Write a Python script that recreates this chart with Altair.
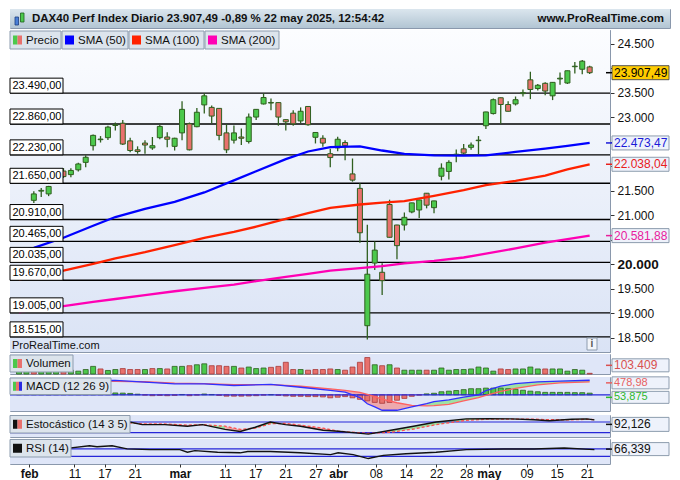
import json
import altair as alt
import numpy as np
import pandas as pd

# ---------------- data ----------------
dates = [
    "2025-01-30", "2025-01-31",
    "2025-02-03", "2025-02-04", "2025-02-05", "2025-02-06", "2025-02-07",
    "2025-02-10", "2025-02-11", "2025-02-12", "2025-02-13", "2025-02-14",
    "2025-02-17", "2025-02-18", "2025-02-19", "2025-02-20", "2025-02-21",
    "2025-02-24", "2025-02-25", "2025-02-26", "2025-02-27", "2025-02-28",
    "2025-03-03", "2025-03-04", "2025-03-05", "2025-03-06", "2025-03-07",
    "2025-03-10", "2025-03-11", "2025-03-12", "2025-03-13", "2025-03-14",
    "2025-03-17", "2025-03-18", "2025-03-19", "2025-03-20", "2025-03-21",
    "2025-03-24", "2025-03-25", "2025-03-26", "2025-03-27", "2025-03-28",
    "2025-03-31", "2025-04-01", "2025-04-02", "2025-04-03", "2025-04-04",
    "2025-04-07", "2025-04-08", "2025-04-09", "2025-04-10", "2025-04-11",
    "2025-04-14", "2025-04-15", "2025-04-16", "2025-04-17",
    "2025-04-22", "2025-04-23", "2025-04-24", "2025-04-25",
    "2025-04-28", "2025-04-29", "2025-04-30",
    "2025-05-02",
    "2025-05-05", "2025-05-06", "2025-05-07", "2025-05-08", "2025-05-09",
    "2025-05-12", "2025-05-13", "2025-05-14", "2025-05-15", "2025-05-16",
    "2025-05-19", "2025-05-20", "2025-05-21", "2025-05-22",
]
open_ = [21680, 21750, 21302, 21490, 21433, 21680, 21900, 21827, 21925, 22077,
         22417, 22540, 22581, 22830, 22876, 22516, 22333, 22471, 22372, 22581,
         22595, 22404, 22679, 22864, 22805, 23250, 23199, 23179, 22679, 22530,
         22595, 22502, 23002, 23270, 23300, 23297, 22949, 23081, 22923, 23218,
         22589, 22569, 22254, 22372, 22482, 21841, 21546, 18743, 20022, 19833,
         21217, 20798, 20798, 21065, 21105, 21447, 21152, 21794, 21892, 22230,
         22353, 22384, 22520, 22825, 23073, 23396, 23258, 23270, 23480, 23762,
         23584, 23691, 23435, 23780, 23697, 24030, 23978, 24025]
high = [21750, 21800, 21487, 21552, 21597, 21920, 21960, 21959, 22069, 22221,
        22648, 22614, 22825, 22890, 22943, 22581, 22404, 22530, 22595, 22845,
        22693, 22580, 23323, 22890, 23185, 23486, 23238, 23185, 22856, 22831,
        22766, 23073, 23165, 23486, 23382, 23300, 22955, 23140, 23199, 23225,
        22690, 22628, 22353, 22600, 22530, 22156, 21650, 20804, 20463, 20017,
        21315, 20805, 21054, 21255, 21315, 21452, 21295, 22057, 22122, 22339,
        22451, 22482, 22614, 23110, 23382, 23400, 23323, 23421, 23565, 23927,
        23677, 23710, 23715, 23913, 23950, 24124, 24169, 24051]
low = [21660, 21690, 21250, 21368, 21388, 21660, 21760, 21774, 21892, 21979,
       22319, 22482, 22535, 22726, 22431, 22286, 22254, 22254, 22333, 22549,
       22384, 22319, 22530, 22320, 22795, 23073, 22876, 22530, 22266, 22463,
       22431, 22463, 22943, 23258, 23140, 22825, 22726, 22825, 22876, 22825,
       22463, 22398, 21979, 22305, 22122, 21683, 20436, 18462, 19879, 19367,
       20540, 20101, 20686, 21040, 20942, 21138, 21040, 21709, 21729, 22077,
       22221, 22333, 22234, 22758, 23053, 22864, 23115, 23238, 23421, 23368,
       23545, 23447, 23348, 23663, 23677, 23893, 23874, 23880]
close = [21727, 21732, 21433, 21505, 21585, 21902, 21787, 21912, 22044, 22181,
         22628, 22552, 22797, 22845, 22451, 22319, 22299, 22431, 22417, 22811,
         22549, 22569, 23159, 22333, 23100, 23435, 23022, 22628, 22333, 22679,
         22569, 23002, 23159, 23401, 23288, 23002, 22904, 22864, 23120, 22845,
         22687, 22471, 22175, 22549, 22417, 21715, 20640, 19794, 20286, 19662,
         20548, 20377, 20955, 21250, 21309, 21203, 21290, 21959, 22077, 22243,
         22266, 22431, 22530, 23106, 23356, 23258, 23120, 23356, 23500, 23565,
         23651, 23533, 23710, 23795, 23947, 24040, 24143, 23907.49]
volume = [725000, 797000, 1015000, 797000, 725000, 725000, 652000, 580000,
          435000, 681000, 1160000, 768000, 536000, 681000, 826000, 681000, 681000, 681000,
          826000, 826000, 768000, 1160000, 1160000, 1261000, 1406000, 1551000, 1261000, 1261000,
          1160000, 1160000, 913000, 1058000, 826000, 913000, 1015000, 1160000, 1783000, 681000,
          681000, 580000, 681000, 681000, 768000, 681000,
          580000, 1058000, 1783000, 2508000, 1406000, 1261000, 1406000, 913000, 580000, 580000,
          580000, 580000, 580000, 913000, 580000, 681000, 681000, 768000, 1058000, 913000,
          435000, 768000, 681000, 768000, 768000, 1058000, 768000, 768000, 768000, 768000,
          435000, 681000, 580000, 103409]
macd_hist = [40, 35, 20, 10, 5, 10, 15, 20, 30, 40,
             55, 60, 60, 60, 55, 45, 20, -10, -30, -20,
             -30, -20, 10, -30, -10, 25, 10, -20, -45, -45,
             -45, -40, -30, -10, 5, -20, -40, -50, -50, -60,
             -60, -70, -100, -80, -60, -100, -150, -200, -250, -280,
             -250, -180, -120, -50, -10, 30, 50, 100, 120, 140,
             170, 200, 200, 220, 220, 220, 200, 180, 150, 120,
             100, 80, 80, 80, 80, 70, 70, 53.875]

axis_dates = ["2025-02-03", "2025-02-11", "2025-02-17", "2025-02-21", "2025-03-03",
              "2025-03-11", "2025-03-17", "2025-03-21", "2025-03-27", "2025-04-01",
              "2025-04-08", "2025-04-14", "2025-04-22", "2025-04-28", "2025-05-02",
              "2025-05-09", "2025-05-15", "2025-05-21"]
axis_labels = ["feb", "11", "17", "21", "mar", "11", "17", "21", "27", "abr",
               "08", "14", "22", "28", "may", "09", "15", "21"]
month_labels = ["feb", "mar", "abr", "may"]

levels = [23490, 22860, 22230, 21650, 20910, 20465, 20035, 19670, 19005, 18515]
level_labels = ["23.490,00", "22.860,00", "22.230,00", "21.650,00", "20.910,00",
                "20.465,00", "20.035,00", "19.670,00", "19.005,00", "18.515,00"]
price_ticks = [18500, 19000, 19500, 20000, 20500, 21000, 21500, 22000,
               22500, 23000, 23500, 24000, 24500]
# tick labels that sit under the value tags in the reference
hidden_ticks = [20500, 22000, 22500, 24000]

sma_dates = ["2025-01-30", "2025-02-03", "2025-02-07", "2025-02-13", "2025-02-18",
             "2025-02-24", "2025-02-28", "2025-03-06", "2025-03-12", "2025-03-17",
             "2025-03-21", "2025-03-26", "2025-03-31", "2025-04-04", "2025-04-09",
             "2025-04-14", "2025-04-22", "2025-04-28", "2025-05-02", "2025-05-08",
             "2025-05-14", "2025-05-19", "2025-05-22"]
sma50 = [20272, 20331, 20538, 20784, 20961, 21128, 21270, 21463, 21709, 21896, 22142,
         22299, 22388, 22404, 22319, 22250, 22221, 22215, 22221, 22290, 22358, 22412, 22473.47]
sma100 = [19682, 19751, 19869, 20007, 20115, 20243, 20390, 20538, 20656, 20764, 20922,
          21040, 21148, 21217, 21256, 21286, 21394, 21512, 21611, 21699, 21807, 21935, 22038.04]
sma200 = [19013, 19072, 19141, 19229, 19288, 19367, 19446, 19515, 19583, 19652, 19741,
          19800, 19869, 19918, 19957, 20016, 20066, 20135, 20213, 20321, 20440, 20508, 20581.88]

tag_values = [23907.49, 22473.47, 22038.04, 20581.88]
tag_labels = ["23.907,49", "22.473,47", "22.038,04", "20.581,88"]

macd_dates = ["2025-01-30", "2025-02-05", "2025-02-11", "2025-02-18", "2025-02-24",
              "2025-02-28", "2025-03-06", "2025-03-12", "2025-03-19", "2025-03-25",
              "2025-03-31", "2025-04-02", "2025-04-04", "2025-04-07", "2025-04-08",
              "2025-04-09", "2025-04-11", "2025-04-15", "2025-04-17", "2025-04-22",
              "2025-04-24", "2025-04-28", "2025-04-30", "2025-05-02", "2025-05-06",
              "2025-05-08", "2025-05-13", "2025-05-16", "2025-05-22"]
macd_line = [520, 470, 460, 476, 418, 360, 360, 306, 340, 248, 146, 88, -92, -296, -398,
             -510, -510, -398, -290, -228, -170, -75, 0, 136, 282, 367, 428, 452, 478.98]
signal_line = [480, 490, 460, 440, 430, 384, 367, 333, 333, 282, 197, 146, 78, 10, -58,
               -143, -262, -347, -364, -357, -313, -200, -90, -20, 110, 210, 330, 395, 425.1]

stoch_dates = ["2025-01-30", "2025-02-06", "2025-02-13", "2025-02-20", "2025-02-24",
               "2025-02-27", "2025-03-04", "2025-03-06", "2025-03-11", "2025-03-13",
               "2025-03-17", "2025-03-19", "2025-03-21", "2025-03-25", "2025-03-28",
               "2025-04-01", "2025-04-04", "2025-04-07", "2025-04-10", "2025-04-15",
               "2025-04-22", "2025-04-28", "2025-05-02", "2025-05-07", "2025-05-12",
               "2025-05-14", "2025-05-19", "2025-05-21", "2025-05-22"]
stoch_k = [60, 78, 90, 83, 65, 65, 56, 65, 38, 26, 50, 80, 65, 56, 33, 27, 15, 11, 33, 56,
           80, 98, 99, 98, 93, 87, 96, 98, 92.126]
stoch_d = [55, 70, 85, 75, 70, 69, 62, 65, 56, 38, 45, 70, 72, 62, 45, 28, 18, 15, 22, 40,
           65, 90, 96, 97, 96, 93, 93, 95, 94]
stoch_levels = [80, 20]

rsi_dates = ["2025-01-30", "2025-02-04", "2025-02-06", "2025-02-10", "2025-02-13",
             "2025-02-14", "2025-02-18", "2025-02-20", "2025-02-25", "2025-03-03",
             "2025-03-04", "2025-03-05", "2025-03-10", "2025-03-13", "2025-03-14",
             "2025-03-19", "2025-03-25", "2025-03-31", "2025-04-01", "2025-04-03",
             "2025-04-07", "2025-04-09", "2025-04-14", "2025-04-22", "2025-04-28",
             "2025-05-06", "2025-05-12", "2025-05-16", "2025-05-22"]
rsi = [60, 55, 65, 73, 87, 82, 87, 70, 66, 66, 52, 61, 52, 49, 56, 56, 49, 39, 49, 39,
       18, 35, 44, 52, 66, 70, 70, 75, 66.339]
rsi_levels = [70, 30]

header_left = "DAX40 Perf Index Diario 23.907,49 -0,89 % 22 may 2025, 12:54:42"
header_right = "www.ProRealTime.com"

# ---------------- layout / styles ----------------
FONT = "Liberation Sans"
W = 600
HW = 660
HH = 19
HM = 322
HV = 20
HMA = 34
HS = 22
HR = 25

DARK = "#2f5f1f"
UP = "#4cc94c"
DOWN = "#e8716d"
BOX_FILL = "#dce4ec"
BOX_STROKE = "#8d9cae"
LOW_BG = "#dfe6f8"
BLUE_LINE = "#2626d8"

pos = {d: k for k, d in enumerate(dates)}

df = pd.DataFrame(dict(i=list(range(len(dates))), open=open_, high=high, low=low,
                       close=close, vol=volume, hist=macd_hist))
df["dir"] = np.where(df["close"] >= df["open"], "up", "down")
prev_close = df["close"].shift(1).fillna(df["open"])
df["vdir"] = np.where(df["close"] >= prev_close, "up", "down")
df["hdir"] = np.where(df["hist"] >= 0, "up", "down")

one = pd.DataFrame({"k": [0]})

xs = alt.Scale(domain=[-0.54, 79.07], nice=False, zero=False)


def X():
    return alt.X("i:Q", scale=xs, axis=None, title=None)


def rect_px(x0, x1, y0, y1, **kw):
    return alt.Chart(one).mark_rect(**kw).encode(
        x=alt.value(x0), x2=alt.value(x1), y=alt.value(y0), y2=alt.value(y1))


def text_px(x, y, txt, **kw):
    kw.setdefault("baseline", "middle")
    kw.setdefault("align", "left")
    return alt.Chart(one).mark_text(text=txt, **kw).encode(x=alt.value(x), y=alt.value(y))


def label_box(x0, x1, y0, y1, text, colors, fs=11.5):
    layers = [rect_px(x0, x1, y0, y1, fill=BOX_FILL, stroke=BOX_STROKE, strokeWidth=1)]
    sw0, sw1 = x0 + 3, x0 + 12
    step = (sw1 - sw0) / len(colors)
    cy = (y0 + y1) / 2
    for k, c in enumerate(colors):
        layers.append(rect_px(sw0 + k * step, sw0 + (k + 1) * step, cy - 4.5, cy + 4.5, fill=c))
    layers.append(text_px(x0 + 16, cy + 0.5, text, fontSize=fs, color="#111111"))
    return layers


def tag(value, label, yenc, tcolor, fill="#eef2fb", stroke="#8d9cae", off=0.0, half=7, fs=12):
    tdf = pd.DataFrame({"v": [value], "t": [label]})
    base = alt.Chart(tdf)
    r = base.mark_rect(fill=fill, stroke=stroke, strokeWidth=1,
                       yOffset=off + half, y2Offset=off - half).encode(
        x=alt.value(W + 2), x2=alt.value(W + 59), y=yenc("v"), y2="v")
    tk = base.mark_rule(color=tcolor, strokeWidth=1.5, yOffset=off).encode(
        x=alt.value(W - 4), x2=alt.value(W + 2), y=yenc("v"))
    t = base.mark_text(align="left", baseline="middle", fontSize=fs, color=tcolor, dy=off).encode(
        x=alt.value(W + 4), y=yenc("v"), text="t:N")
    return [r, tk, t]


def two_fill(idx, a, b, pos_color, neg_color, scale, opacity=0.75):
    rows = []
    seg = 0
    signs = ["pos" if av >= bv else "neg" for av, bv in zip(a, b)]
    for k in range(len(idx)):
        if k > 0 and signs[k] != signs[k - 1]:
            rows.append(dict(i=idx[k], a=a[k], b=b[k], seg=seg, cls=signs[k - 1]))
            seg += 1
        rows.append(dict(i=idx[k], a=a[k], b=b[k], seg=seg, cls=signs[k]))
    fdf = pd.DataFrame(rows)
    return alt.Chart(fdf).mark_area(opacity=opacity).encode(
        x=X(),
        y=alt.Y("a:Q", scale=scale, axis=None, stack=None, title=None),
        y2="b",
        color=alt.Color("cls:N", scale=alt.Scale(domain=["pos", "neg"], range=[pos_color, neg_color]),
                        legend=None),
        detail="seg:N",
    )


# ---------------- header ----------------
grad_head = alt.LinearGradient(gradient="linear", x1=0, x2=0, y1=0, y2=1, stops=[
    alt.GradientStop(color="#dbe6ee", offset=0), alt.GradientStop(color="#b2c5d3", offset=1)])
header = alt.layer(
    rect_px(0, HW, 0, HH, fill=grad_head),
    rect_px(5, 8.5, 8, 16, fill="#4a7fd6", stroke="#1d3f80", strokeWidth=0.8),
    rect_px(10.5, 14, 4, 13, fill="#4cc94c", stroke="#1d5f1d", strokeWidth=0.8),
    text_px(22, 10, header_left, fontSize=11.5, fontWeight="bold", color="#111111"),
    text_px(HW - 6, 10, header_right, fontSize=11.5, fontWeight="bold", color="#111111", align="right"),
).properties(width=HW, height=HH)

# ---------------- main panel ----------------
ys_main = alt.Scale(domain=[18206, 24779], nice=False, zero=False)
main_axis = alt.Axis(
    orient="right", values=price_ticks,
    labelExpr=(f"indexof({json.dumps(hidden_ticks)}, datum.value) >= 0 ? '' : "
               "replace(format(datum.value, ',.0f'), ',', '.')"),
    labelFontWeight=alt.condition("datum.value == 20000", alt.value("bold"), alt.value("normal")),
    labelFontSize=alt.condition("datum.value == 20000", alt.value(13.5), alt.value(12)),
    tickSize=4, tickColor="#333333", domainColor="#8a98ac", labelColor="#111111",
    grid=False, title=None, labelPadding=3, labelOverlap=False)


def YM(f):
    return alt.Y(f"{f}:Q", scale=ys_main, axis=main_axis, title=None)


grad_main = alt.LinearGradient(gradient="linear", x1=0, x2=0, y1=0, y2=1, stops=[
    alt.GradientStop(color="#fcfdff", offset=0), alt.GradientStop(color="#dae3f5", offset=1)])

lev_df = pd.DataFrame(dict(level=levels, label=level_labels))
main_layers = [rect_px(0, W, 0, HM, fill=grad_main)]
main_layers.append(alt.Chart(lev_df).mark_rule(color="black", strokeWidth=1.4).encode(y=YM("level")))
main_layers.append(alt.Chart(df).mark_rule(color=DARK, strokeWidth=1.3).encode(
    x=X(), y=YM("low"), y2="high"))
for d, fc in (("up", UP), ("down", DOWN)):
    main_layers.append(alt.Chart(df).transform_filter(f"datum.dir == '{d}'").mark_bar(
        size=5, fill=fc, stroke=DARK, strokeWidth=1).encode(x=X(), y=YM("open"), y2="close"))
sma_i = [pos[d] for d in sma_dates]
for vals, col in ((sma50, "#0000ff"), (sma100, "#ff2200"), (sma200, "#ff00b4")):
    sdf = pd.DataFrame(dict(i=sma_i, v=vals))
    main_layers.append(alt.Chart(sdf).mark_line(color=col, strokeWidth=2.3).encode(x=X(), y=YM("v")))
main_layers.append(alt.Chart(lev_df).mark_rect(fill="white", stroke="black", strokeWidth=1,
                                               y2Offset=-15).encode(
    x=alt.value(0), x2=alt.value(53), y=YM("level"), y2="level"))
main_layers.append(alt.Chart(lev_df).mark_text(align="left", baseline="middle", dy=-7,
                                               fontSize=11, color="black").encode(
    x=alt.value(2.5), y=YM("level"), text="label:N"))
main_layers += label_box(0, 51, 1, 19, "Precio", [UP, DOWN])
main_layers += label_box(52, 118, 1, 19, "SMA (50)", ["#0000ff"])
main_layers += label_box(119, 194, 1, 19, "SMA (100)", ["#ff2200"])
main_layers += label_box(195, 269, 1, 19, "SMA (200)", ["#ff00b4"])
main_layers.append(text_px(2, HM - 6, "ProRealTime.com", fontSize=11, color="#111111"))
main_layers.append(rect_px(W - 23, W - 13, HM - 14, HM - 2, fill="#f2f5fa", stroke="#8d9cae"))
main_layers.append(text_px(W - 18, HM - 8, "i", fontSize=10, fontWeight="bold",
                           color="#555555", align="center"))
tag_styles = [("#000000", "#ffcc00", "#555555"), ("#1a1ad8", "#eef2fb", "#8d9cae"),
              ("#e8201c", "#eef2fb", "#8d9cae"), ("#e8209c", "#eef2fb", "#8d9cae")]
for v, lab, (tc, fc, sc) in zip(tag_values, tag_labels, tag_styles):
    main_layers += tag(v, lab, YM, tc, fill=fc, stroke=sc)
main = alt.layer(*main_layers).properties(width=W, height=HM)

# ---------------- volume ----------------
vs = alt.Scale(domain=[0, 3045000], nice=False, zero=False)


def YV(f):
    return alt.Y(f"{f}:Q", scale=vs, axis=None, title=None, stack=None)


vol_layers = [rect_px(0, W, 0, HV, fill=LOW_BG)]
for d, fc, sc in (("up", UP, DARK), ("down", DOWN, "#a83a3a")):
    vol_layers.append(alt.Chart(df).transform_filter(f"datum.vdir == '{d}'").mark_bar(
        size=5, fill=fc, stroke=sc, strokeWidth=0.8).encode(x=X(), y=YV("vol")))
vol_layers += label_box(0, 63, 1, 18, "Volumen", [UP, DOWN])
vol_layers += tag(volume[-1], "103.409", YV, "#d85050", off=-8, half=6.5)
vol = alt.layer(*vol_layers).properties(width=W, height=HV)

# ---------------- MACD ----------------
ms = alt.Scale(domain=[-534, 586], nice=False, zero=False)


def YMA(f):
    return alt.Y(f"{f}:Q", scale=ms, axis=None, title=None, stack=None)


macd_i = [pos[d] for d in macd_dates]
mdf = pd.DataFrame(dict(i=macd_i, m=macd_line, s=signal_line))
macd_layers = [rect_px(0, W, 0, HMA, fill=LOW_BG)]
macd_layers.append(two_fill(macd_i, macd_line, signal_line, "#8fe08f", "#f09a9a", ms, 0.8))
for d, fc, sc in (("up", UP, DARK), ("down", DOWN, "#a83a3a")):
    macd_layers.append(alt.Chart(df).transform_filter(f"datum.hdir == '{d}'").mark_bar(
        size=5, fill=fc, stroke=sc, strokeWidth=0.8).encode(x=X(), y=YMA("hist")))
macd_layers.append(alt.Chart(pd.DataFrame({"z": [0]})).mark_rule(
    color=BLUE_LINE, strokeWidth=1.2).encode(y=YMA("z")))
macd_layers.append(alt.Chart(mdf).mark_line(color="#ff6060", strokeWidth=1.3).encode(x=X(), y=YMA("s")))
macd_layers.append(alt.Chart(mdf).mark_line(color="#3030ff", strokeWidth=1.3).encode(x=X(), y=YMA("m")))
macd_layers += label_box(0, 101, 1, 17.5, "MACD (12 26 9)", [UP, DOWN, "#2a2ae0"])
macd_layers += tag(macd_line[-1], "478,98", YMA, "#e86060", off=2.6, half=6, fs=11)
macd_layers += tag(macd_hist[-1], "53,875", YMA, "#2fb82f", off=4.2, half=6, fs=11)
macd = alt.layer(*macd_layers).properties(width=W, height=HMA)

# ---------------- Stochastic ----------------
ss = alt.Scale(domain=[-5.5, 120], nice=False, zero=False)


def YS(f):
    return alt.Y(f"{f}:Q", scale=ss, axis=None, title=None, stack=None)


st_i = [pos[d] for d in stoch_dates]
sdf2 = pd.DataFrame(dict(i=st_i, k=stoch_k, d=stoch_d))
sto_layers = [rect_px(0, W, 0, HS, fill=LOW_BG)]
sto_layers.append(two_fill(st_i, stoch_k, stoch_d, "#95a3dc", "#f2b0c0", ss, 0.85))
sto_layers.append(alt.Chart(pd.DataFrame({"v": stoch_levels})).mark_rule(
    color=BLUE_LINE, strokeWidth=1.2).encode(y=YS("v")))
sto_layers.append(alt.Chart(sdf2).mark_line(color="#ff5050", strokeWidth=1.3,
                                            strokeDash=[3, 2]).encode(x=X(), y=YS("d")))
sto_layers.append(alt.Chart(sdf2).mark_line(color="#111111", strokeWidth=1.4).encode(x=X(), y=YS("k")))
sto_layers += label_box(0, 120, 0.5, 18, "Estocástico (14 3 5)", ["#111111", DOWN])
sto_layers += tag(stoch_k[-1], "92,126", YS, "#111111", off=4.5, half=7)
sto = alt.layer(*sto_layers).properties(width=W, height=HS)

# ---------------- RSI ----------------
rs = alt.Scale(domain=[-11.4, 123.6], nice=False, zero=False)


def YR(f):
    return alt.Y(f"{f}:Q", scale=rs, axis=None, title=None, stack=None)


axis_idx = [pos[d] for d in axis_dates]
month_idx = [axis_idx[k] for k, l in enumerate(axis_labels) if l in month_labels]
x_axis = alt.Axis(
    values=axis_idx,
    labelExpr=f"{json.dumps(axis_labels)}[indexof({json.dumps(axis_idx)}, datum.value)]",
    labelFontWeight=alt.condition(f"indexof({json.dumps(month_idx)}, datum.value) >= 0",
                                  alt.value("bold"), alt.value("normal")),
    labelFontSize=12, labelColor="#111111", tickSize=3, tickColor="#333333",
    domain=False, grid=False, labelPadding=1, labelOverlap=False, labelFlush=False, title=None)
rsi_i = [pos[d] for d in rsi_dates]
rdf = pd.DataFrame(dict(i=rsi_i, r=rsi))
rsi_layers = [rect_px(0, W, 0, HR, fill=LOW_BG)]
rsi_layers.append(alt.Chart(pd.DataFrame({"v": rsi_levels})).mark_rule(
    color=BLUE_LINE, strokeWidth=1.2).encode(y=YR("v")))
rsi_layers.append(alt.Chart(rdf).mark_line(color="#111111", strokeWidth=1.4).encode(
    x=alt.X("i:Q", scale=xs, axis=x_axis, title=None), y=YR("r")))
rsi_layers += label_box(0, 61, 0.5, 18, "RSI (14)", ["#111111"])
rsi_layers += tag(rsi[-1], "66,339", YR, "#111111", off=-0.5, half=6.5)
rsi_panel = alt.layer(*rsi_layers).properties(width=W, height=HR)

chart = alt.vconcat(header, main, vol, macd, sto, rsi_panel, spacing=0).properties(
    padding=0
).configure(font=FONT).configure_view(stroke="#8a98ac", strokeWidth=1)

chart.save("out.html", embed_options={"renderer": "svg", "actions": False})
